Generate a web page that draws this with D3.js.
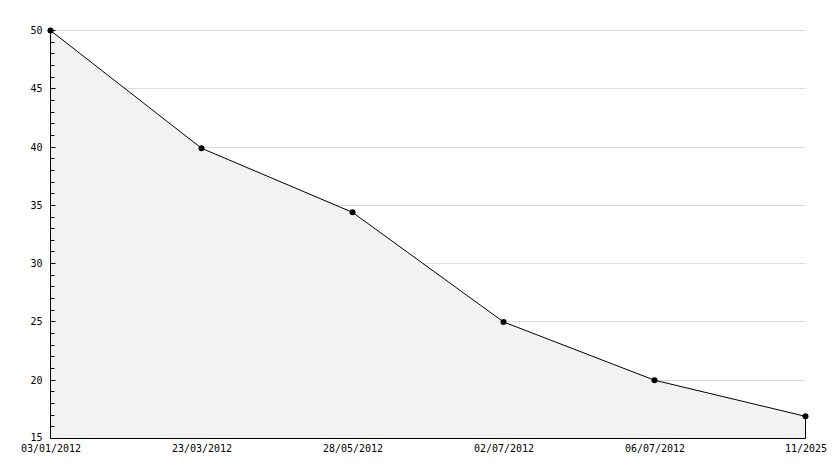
<!DOCTYPE html>
<html><head><meta charset="utf-8">
<script src="https://cdn.jsdelivr.net/npm/d3@7/dist/d3.min.js"></script>
<style>body{margin:0;background:#fff}svg{display:block}</style>
</head><body>
<script>
const categories = ["03/01/2012","23/03/2012","28/05/2012","02/07/2012","06/07/2012","11/2025"];
const values = [50, 39.9, 34.4, 25.0, 20.0, 16.9];
const yTicks = [15,20,25,30,35,40,45,50];

(function(){
const W=834,H=468, mL=50.5, mR=805.5, mT=30.5, mB=438.5;
const svg=d3.select("body").append("svg").attr("width",W).attr("height",H);
const x=d3.scalePoint().domain(categories).range([mL,mR]);
const y=d3.scaleLinear().domain([15,50]).range([mB,mT]);
const font="'DejaVu Sans Mono', monospace";
const ry=d=>Math.round(y(d)-0.5)+0.5;

// grid
svg.append("g").selectAll("line").data(yTicks.filter(d=>d>15)).join("line")
  .attr("x1",mL).attr("x2",mR).attr("y1",ry).attr("y2",ry)
  .attr("stroke","#dcdcdc").attr("stroke-width",1);

// area
const pts=categories.map((c,i)=>({c,v:values[i]}));
svg.append("path").datum(pts)
  .attr("d",d3.area().x(d=>x(d.c)).y0(mB).y1(d=>y(d.v)))
  .attr("fill","#f2f2f2");
svg.append("path").datum(pts)
  .attr("d",d3.line().x(d=>x(d.c)).y(d=>y(d.v)))
  .attr("fill","none").attr("stroke","#000").attr("stroke-width",1);
const last=categories.length-1;
svg.append("line").attr("x1",x(categories[last])).attr("x2",x(categories[last]))
  .attr("y1",y(values[last])).attr("y2",mB).attr("stroke","#000");

// y axis with minor ticks
const minor=d3.range(15,50.01,1).filter(v=>v%5!==0);
svg.append("g").selectAll("line").data(minor).join("line")
  .attr("x1",mL).attr("x2",mL+4).attr("y1",ry).attr("y2",ry)
  .attr("stroke","#000");
const yAxis=d3.axisRight(y).tickValues(yTicks).tickSize(5).tickFormat(d3.format("d"));
const gy=svg.append("g").attr("transform",`translate(${mL},0)`).call(yAxis);
gy.select(".domain").attr("d",`M0,${mT}V${mB}`).attr("stroke","#000");
gy.selectAll(".tick").attr("transform",d=>`translate(0,${ry(d)})`);
gy.selectAll("text").attr("x",-8).attr("text-anchor","end").attr("font-family",font).attr("font-size",10).attr("fill","#000");
gy.selectAll(".tick").filter(d=>d===15).select("text").attr("dy","0.2em");

// x axis
const xAxis=d3.axisBottom(x).tickSize(0).tickPadding(6);
const gx=svg.append("g").attr("transform",`translate(0,${mB})`).call(xAxis);
gx.select(".domain").attr("d",`M${mL},0H${mR}`).attr("stroke","#000");
gx.selectAll("text").attr("font-family",font).attr("font-size",10).attr("fill","#000");

// markers
svg.append("g").selectAll("circle").data(pts).join("circle")
  .attr("cx",d=>x(d.c)).attr("cy",d=>y(d.v)).attr("r",3).attr("fill","#000");
})();
</script>
</body></html>
